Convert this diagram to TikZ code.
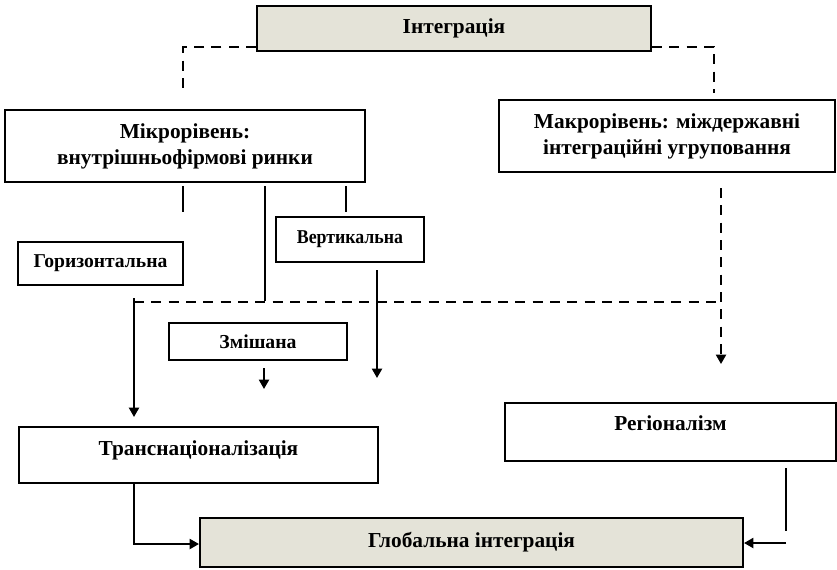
\documentclass[tikz,border=0pt]{standalone}
\usepackage{graphicx}
\usepackage{fontspec}
\setmainfont{Liberation Serif}
\usetikzlibrary{arrows.meta,calc}
\definecolor{boxbeige}{RGB}{228,227,216}
\begin{document}
\begin{tikzpicture}[x=0.75pt,y=-0.75pt,
  box/.style={draw,line width=1.5pt,rectangle,inner sep=0pt,align=center,
    font=\fontsize{16}{19.5}\selectfont\bfseries},
  small/.style={font=\fontsize{#1}{18}\selectfont\bfseries},
  lbl/.style={inner sep=0pt,align=center,font=\fontsize{16}{19.5}\selectfont\bfseries},
  ln/.style={line width=1.5pt},
  dsh/.style={line width=1.5pt,dash pattern=on 7.5pt off 5.5pt},
  arr/.style={-{Triangle[length=7pt,width=7.5pt]}}]
\useasboundingbox (0,0) rectangle (837,569);

% boxes
\node[box,fill=boxbeige,minimum width=295.5pt,minimum height=33.75pt] (integ) at (454,28.5) {Інтеграція};
\node[box,minimum width=270pt,minimum height=54pt] (micro) at (185,146) {Мікрорівень:\\внутрішньофірмові ринки};
\node[box,minimum width=252pt,minimum height=54pt] (macro) at (667,136) {Макрорівень: міждержавні\\інтеграційні угруповання};
\node[box,small=14.7,minimum width=123.75pt,minimum height=32.25pt] (horiz) at (100.5,263.5) {Горизонтальна};
\node[box,small=14.7,minimum width=111pt,minimum height=33.75pt] (vert) at (350,239.5) {\scalebox{0.91}[1]{Вертикальна}};
\node[box,small=14.8,minimum width=133.5pt,minimum height=27.75pt] (mixed) at (258,341.5) {Змішана};
\node[box,minimum width=269.25pt,minimum height=42pt] (trans) at (198.5,455) {};
\node[lbl] (transT) at ($(trans.center)+(0,-5)$) {Транснаціоналізація};
\node[box,minimum width=248.25pt,minimum height=43.5pt] (region) at (670.5,432) {};
\node[lbl] (regionT) at ($(region.center)+(0,-9)$) {Регіоналізм};
\node[box,fill=boxbeige,minimum width=407.25pt,minimum height=36.75pt] (global) at (471.5,542.5) {Глобальна інтеграція};

% helper columns and free ends
\coordinate (cL) at (183,94);
\coordinate (cR) at (714,93);
\coordinate (xa) at (134,0);
\coordinate (xb) at (265,0);
\coordinate (xc) at (346,0);
\coordinate (xd) at (377,0);
\coordinate (xe) at (721,0);
\coordinate (xf) at (786,0);
\coordinate (busL) at (134,302);
\coordinate (busR) at (721,302);

% top split
\draw[dsh] ($(integ.south west)+(0,-5)$) -| (cL);
\draw[dsh] ($(integ.south east)+(0,-5)$) -| (cR);

% stubs under the micro level
\draw[ln] ($(micro.south -| cL)+(0,3)$) -- ++(0,26);
\draw[ln] ($(micro.south -| xc)+(0,3)$) -- ++(0,26);
\draw[ln] ($(micro.south -| xb)+(0,3)$) -- ($(busL -| xb)+(0,-1)$);

% dashed bus
\draw[dsh] (busL) -- (busR);

% arrows down
\draw[ln,arr] ($(busL)+(0,-4)$) -- ($(trans.north -| xa)+(0,-9)$);
\draw[ln,arr] ($(vert.south -| xd)+(0,7)$) -- ($(mixed.south -| xd)+(0,17)$);
\draw[ln,arr] ($(mixed.south)+(6,7)$) -- ++(0,21);
\draw[dsh,arr] ($(macro.south -| xe)+(0,15)$) -- ($(region.north -| xe)+(0,-38)$);

% into global integration
\draw[ln,arr] (trans.south -| xa) |- ($(global.west)+(0,1.5)$);
\draw[ln] ($(region.south -| xf)+(0,6)$) -- ($(global.east -| xf)+(0,-12)$);
\draw[ln,arr] ($(global.east -| xf)+(0,0.5)$) -- ($(global.east)+(0,0.5)$);
\end{tikzpicture}
\end{document}
